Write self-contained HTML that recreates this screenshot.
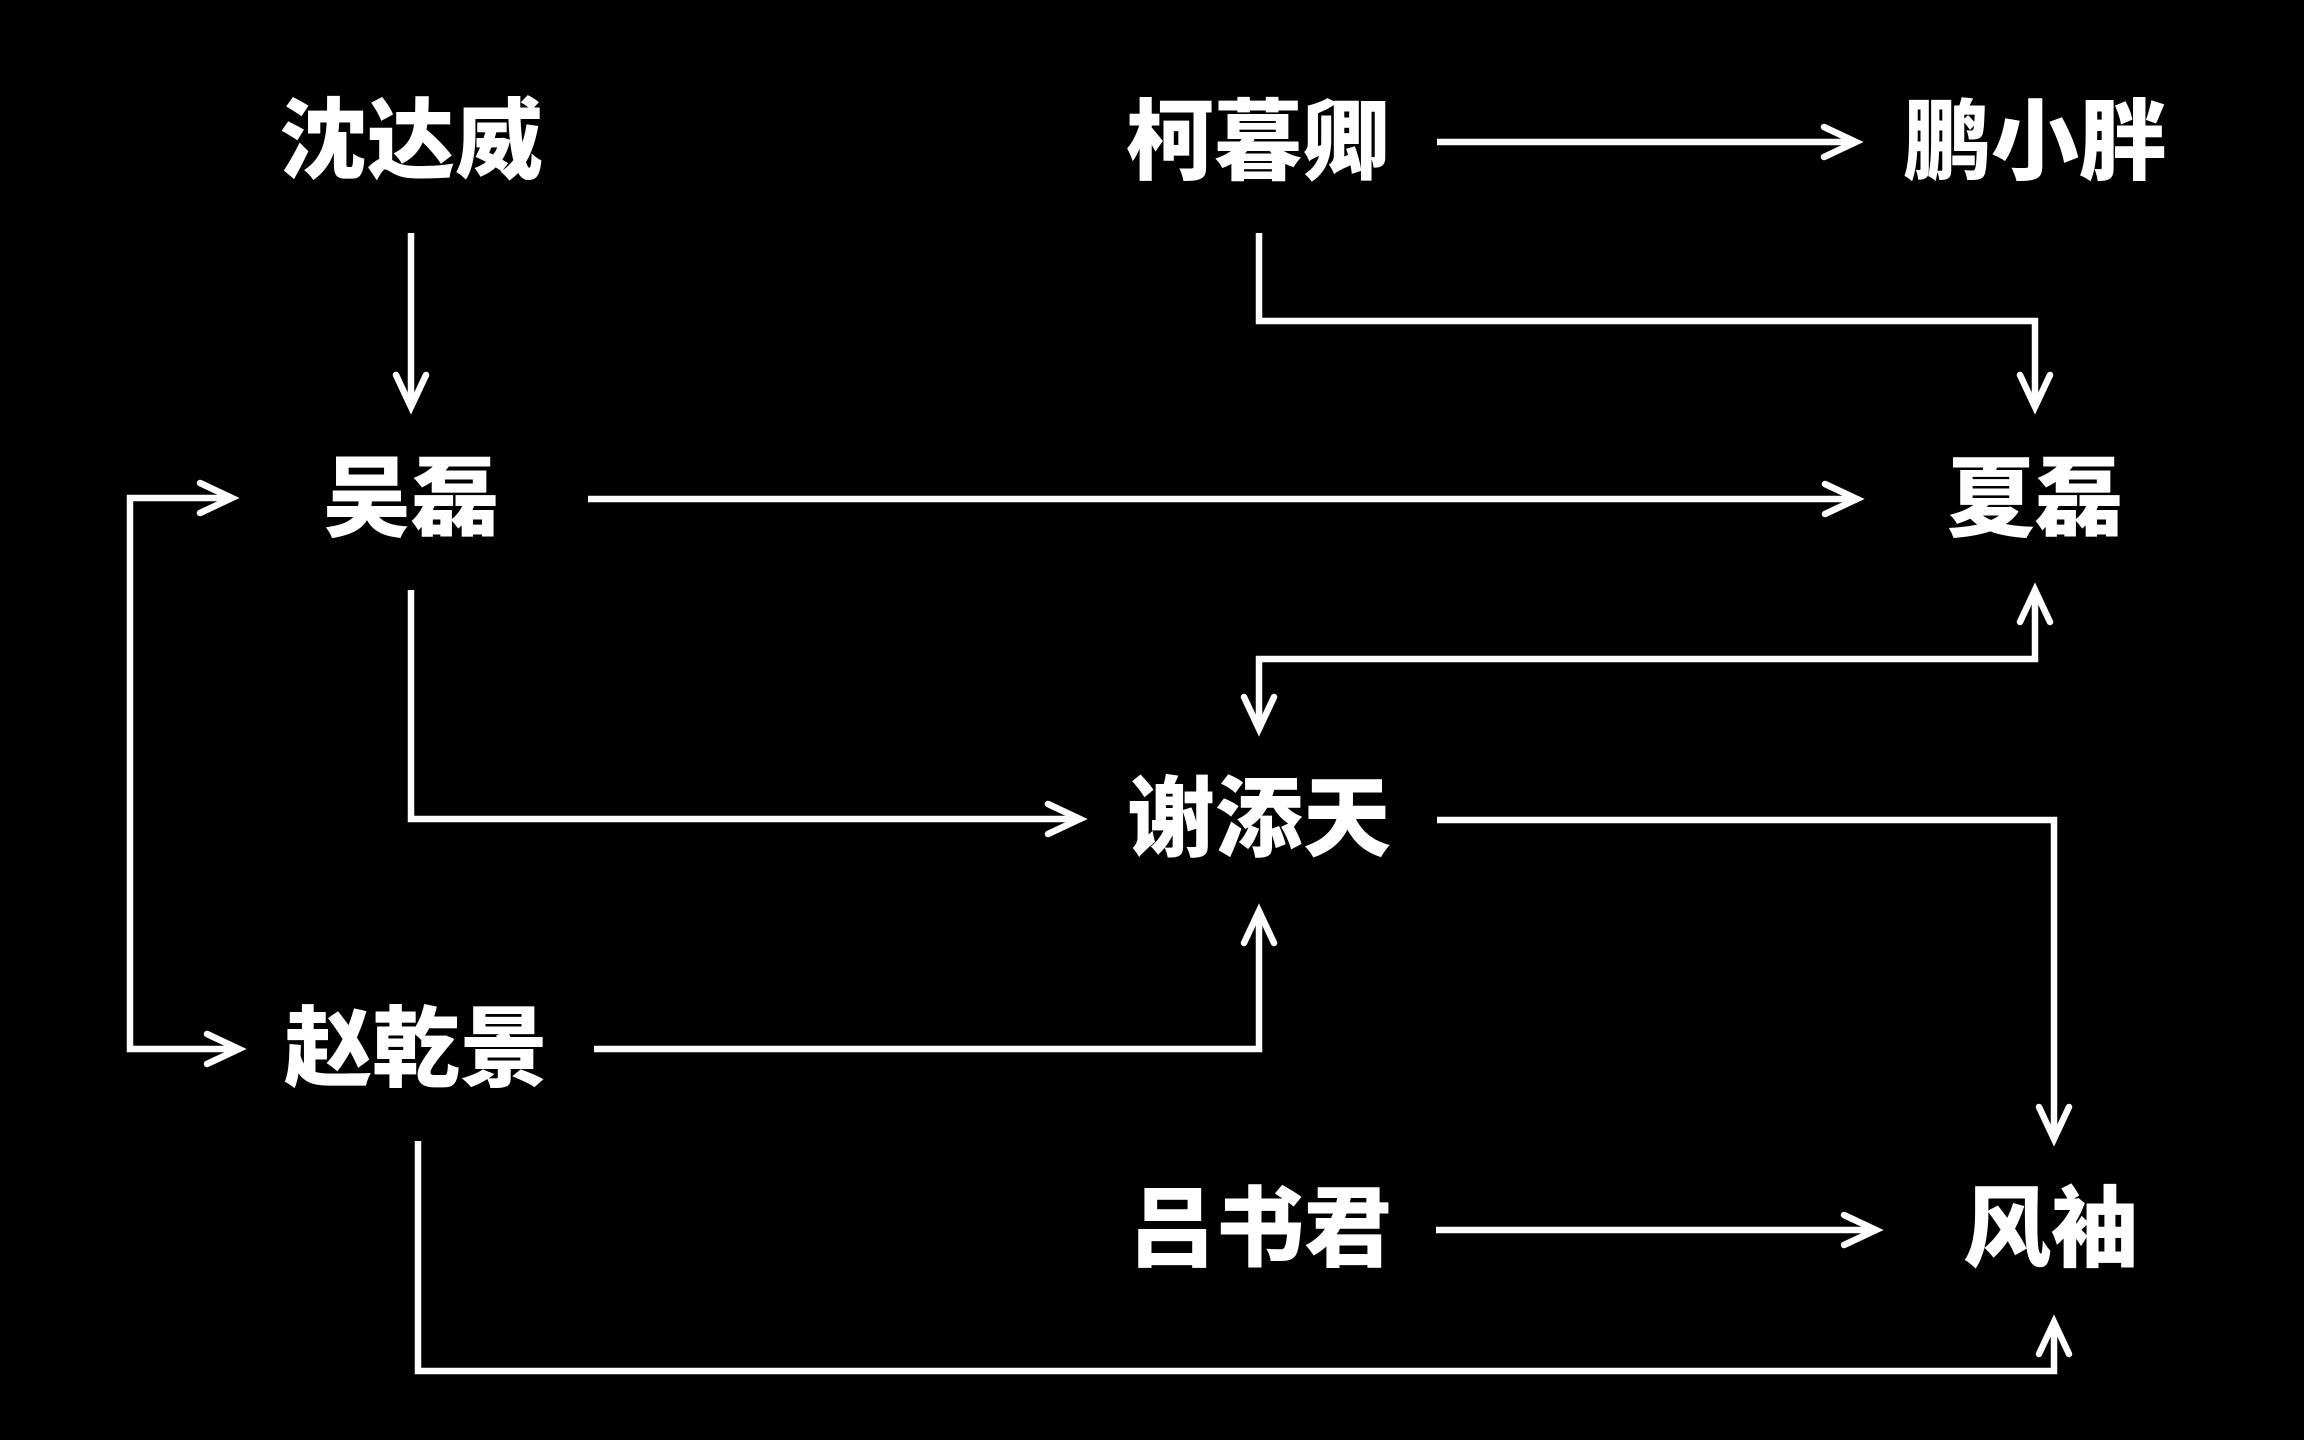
<!DOCTYPE html>
<html>
<head>
<meta charset="utf-8">
<style>
  html, body { margin:0; padding:0; background:#000; }
  body { width:2304px; height:1440px; overflow:hidden; }
  svg { display:block; }
  text { font-family: "Liberation Sans", "Noto Sans CJK SC", "WenQuanYi Zen Hei", sans-serif; font-weight:900; font-size:88px; fill:#fff; }
</style>
</head>
<body>
<svg width="2304" height="1440" viewBox="0 0 2304 1440" xmlns="http://www.w3.org/2000/svg">
  <rect x="0" y="0" width="2304" height="1440" fill="#000"/>
  <g fill="none" stroke="#fff" stroke-width="6.5" stroke-linejoin="miter">
    <path d="M411,233 V405"/>
    <path d="M1437,142 H1853"/>
    <path d="M1259,233 V321 H2035 V404"/>
    <path d="M588,499 H1854"/>
    <path d="M2035,593 V659 H1259 V726"/>
    <path d="M411,590 V819 H1077"/>
    <path d="M1437,820 H2054 V1136"/>
    <path d="M594,1049 H1259 V914"/>
    <path d="M229,498 H130 V1049 H236"/>
    <path d="M1436,1230 H1873"/>
    <path d="M418,1141 V1371 H2054 V1325"/>
  </g>
  <g fill="none" stroke="#fff" stroke-width="6.5" stroke-linecap="round" stroke-linejoin="miter">
    <polyline points="396,375 411,407 426,375"/>
    <polyline points="1824,127 1856,142 1824,157"/>
    <polyline points="2020,375 2035,407 2050,375"/>
    <polyline points="1825,484 1857,499 1825,514"/>
    <polyline points="2020,622 2035,590 2050,622"/>
    <polyline points="1244,697 1259,729 1274,697"/>
    <polyline points="1048,804 1080,819 1048,834"/>
    <polyline points="2039,1107 2054,1139 2069,1107"/>
    <polyline points="1244,943 1259,911 1274,943"/>
    <polyline points="200,483 232,498 200,513"/>
    <polyline points="207,1034 239,1049 207,1064"/>
    <polyline points="1844,1215 1876,1230 1844,1245"/>
    <polyline points="2039,1354 2054,1322 2069,1354"/>
  </g>
  <g text-anchor="middle" dominant-baseline="central">
    <text x="411" y="141">沈达威</text>
    <text x="1258" y="142">柯暮卿</text>
    <text x="2035" y="142">鹏小胖</text>
    <text x="411" y="499">吴磊</text>
    <text x="2035" y="499">夏磊</text>
    <text x="1259" y="819">谢添天</text>
    <text x="416" y="1049">赵乾景</text>
    <text x="1260" y="1229">吕书君</text>
    <text x="2051" y="1229">风袖</text>
  </g>
</svg>
</body>
</html>
